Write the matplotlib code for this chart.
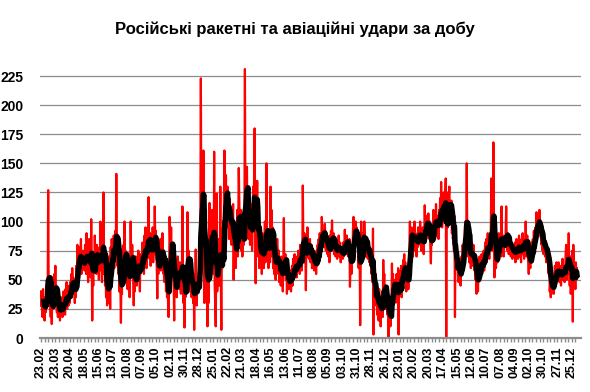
import matplotlib
matplotlib.use("Agg")
import matplotlib.pyplot as plt
import numpy as np
import pandas as pd

title = "Російські ракетні та авіаційні удари за добу"

tick_labels = ["23.02", "23.03", "20.04", "18.05", "15.06", "13.07", "10.08", "07.09",
               "05.10", "02.11", "30.11", "28.12", "25.01", "22.02", "21.03", "18.04",
               "16.05", "13.06", "11.07", "08.08", "05.09", "03.10", "31.10", "28.11",
               "26.12", "23.01", "20.02", "20.03", "17.04", "15.05", "12.06", "10.07",
               "07.08", "04.09", "02.10", "30.10", "27.11", "25.12"]

# daily strikes (blocks of 28 days)
strikes_2022a = [
    40, 27, 38, 18, 42, 25, 30, 15, 35, 22, 45, 28, 50, 35, 127, 42, 32, 48, 28, 18, 35, 12, 42, 30, 25, 48, 55, 35,
    62, 30, 45, 22, 38, 18, 28, 20, 32, 15, 25, 30, 22, 35, 18, 28, 40, 25, 33, 20, 42, 30, 48, 25, 38, 35, 28, 45,
    30, 48, 40, 55, 35, 60, 42, 52, 38, 45, 30, 50, 35, 62, 48, 80, 65, 72, 58, 78, 62, 70, 85, 55, 68, 60, 75, 62,
    72, 58, 80, 65, 55, 90, 70, 62, 48, 75, 85, 60, 70, 52, 102, 65, 15, 58, 45, 72, 60, 88, 68, 75, 55, 80, 62, 70,
    65, 50, 78, 58, 100, 62, 70, 48, 85, 55, 125, 60, 72, 45, 58, 35, 50, 28, 40, 55, 30, 62, 70, 25, 78, 60, 85, 72,
    80, 65, 88, 60, 78, 92, 70, 141, 82, 62, 75, 55, 62, 40, 72, 45, 13, 50, 38, 65, 48, 80, 60, 100, 58, 75, 62, 68,
]
strikes_2022b = [
    55, 42, 70, 48, 62, 35, 58, 100, 72, 60, 80, 65, 48, 28, 52, 40, 60, 70, 55, 45, 68, 58, 75, 50, 62, 40, 72, 65,
    70, 58, 82, 62, 75, 55, 88, 68, 95, 72, 60, 85, 78, 70, 121, 80, 68, 90, 62, 75, 85, 70, 95, 65, 80, 72, 113, 88,
    92, 75, 60, 34, 70, 55, 80, 62, 72, 85, 58, 78, 65, 90, 68, 55, 75, 48, 62, 70, 40, 58, 35, 52, 30, 18, 45, 104,
    85, 72, 95, 68, 60, 80, 75, 45, 15, 62, 50, 40, 58, 35, 55, 70, 48, 60, 42, 65, 55, 38, 62, 50, 113, 45, 30, 40,
    9, 55, 35, 62, 48, 70, 108, 60, 75, 52, 40, 68, 45, 58, 35, 50, 42, 30, 55, 7, 48, 40, 76, 35, 28, 45, 52, 40,
    45, 60, 90, 95, 223, 110, 90, 100, 85, 161, 85, 30, 70, 50, 110, 40, 65, 10, 45, 30, 55, 116, 70, 95, 60, 85, 110, 75,
]
strikes_2023a = [
    90, 55, 160, 45, 30, 10, 60, 124, 40, 70, 55, 85, 45, 65, 130, 50, 7, 80, 60, 95, 70, 110, 161, 125, 90, 140, 105, 120,
    130, 95, 115, 85, 120, 100, 90, 110, 80, 105, 95, 115, 50, 90, 75, 85, 60, 95, 80, 110, 70, 100, 146, 120, 95, 85, 110, 75,
    90, 70, 85, 100, 80, 95, 231, 110, 95, 125, 147, 90, 105, 85, 110, 95, 80, 100, 90, 115, 75, 95, 130, 110, 140, 180, 105, 47,
    120, 105, 135, 90, 70, 85, 60, 75, 95, 65, 80, 55, 90, 70, 85, 60, 75, 100, 65, 80, 150, 95, 70, 85, 60, 75, 90, 65,
    130, 85, 110, 70, 95, 60, 75, 55, 80, 65, 50, 72, 60, 85, 68, 55, 75, 48, 62, 58, 45, 70, 52, 60, 40, 65, 103, 55,
    60, 72, 50, 65, 38, 55, 45, 60, 42, 52, 48, 58, 40, 55, 62, 45, 68, 50, 58, 72, 55, 65, 60, 52, 70, 58, 75, 62,
    68, 55, 80, 62, 75, 58, 70, 131, 85, 72, 90, 65, 80, 41, 88, 75, 95, 70, 82, 68, 78, 85, 65, 72, 80, 60, 75, 70,
]
strikes_2023b = [
    65, 58, 72, 60, 68, 55, 75, 62, 80, 70, 85, 65, 90, 75, 88, 82, 104, 95, 80, 92, 85, 78, 98, 88, 75, 90, 80, 72,
    85, 70, 78, 65, 88, 75, 92, 80, 101, 85, 78, 90, 72, 82, 75, 70, 85, 78, 68, 80, 74, 88, 70, 78, 82, 65, 76, 72,
    75, 68, 82, 70, 78, 93, 80, 85, 72, 88, 78, 82, 70, 75, 85, 44, 60, 72, 55, 80, 68, 95, 104, 85, 92, 78, 100, 88,
    95, 82, 90, 75, 60, 85, 70, 11, 65, 100, 80, 72, 90, 85, 78, 100, 88, 75, 82, 70, 85, 78, 68, 80, 72, 65, 75, 62,
    70, 55, 60, 48, 94, 3, 50, 42, 35, 55, 28, 40, 20, 38, 30, 15, 42, 25, 35, 10, 30, 22, 40, 18, 67, 45, 55, 38,
    30, 45, 25, 35, 20, 40, 0, 25, 15, 30, 10, 22, 28, 64, 40, 55, 35, 48, 30, 50, 42, 38, 55, 45, 30, 60, 3, 52,
]
strikes_2024a = [
    45, 58, 40, 62, 35, 55, 48, 67, 60, 72, 55, 65, 48, 40, 52, 45, 58, 42, 65, 80, 100, 85, 95, 78, 92, 88, 70, 95,
    85, 100, 75, 90, 82, 70, 88, 78, 95, 80, 92, 85, 100, 88, 75, 90, 82, 95, 78, 72, 88, 114, 95, 100, 85, 105, 98, 92,
    107, 90, 85, 100, 78, 64, 88, 80, 95, 85, 110, 92, 105, 98, 90, 115, 88, 100, 95, 105, 85, 110, 98, 120, 100, 134, 108, 95,
    115, 105, 125, 110, 100, 120, 137, 0, 108, 125, 95, 115, 120, 130, 105, 112, 98, 118, 90, 100, 85, 95, 75, 105, 18, 80, 65, 72,
    60, 70, 55, 48, 65, 52, 58, 45, 62, 70, 55, 80, 68, 75, 85, 90, 100, 95, 85, 150, 90, 80, 70, 85, 65, 78, 72, 60,
    82, 68, 75, 62, 80, 70, 58, 65, 50, 60, 38, 55, 45, 40, 62, 58, 70, 52, 65, 60, 72, 55, 68, 62, 75, 58, 70, 82,
]
strikes_2024b = [
    70, 85, 65, 78, 90, 72, 80, 68, 85, 75, 95, 137, 88, 80, 75, 168, 90, 52, 65, 75, 60, 70, 85, 65, 78, 90, 72, 85,
    75, 90, 70, 113, 82, 75, 88, 70, 80, 85, 78, 92, 113, 85, 75, 90, 80, 72, 88, 78, 85, 70, 82, 75, 68, 80, 72, 78,
    70, 82, 65, 78, 85, 72, 80, 68, 75, 88, 70, 82, 78, 65, 85, 72, 90, 80, 75, 68, 85, 78, 100, 82, 70, 88, 75, 65,
    55, 68, 72, 60, 78, 65, 82, 70, 85, 75, 92, 80, 88, 95, 85, 108, 100, 92, 105, 95, 88, 110, 98, 90, 85, 80, 92, 75,
    85, 72, 90, 78, 70, 82, 65, 80, 68, 75, 60, 55, 70, 40, 48, 35, 52, 38, 45, 55, 42, 38, 50, 62, 55, 48, 65, 58,
    60, 50, 65, 55, 48, 62, 58, 45, 60, 52, 68, 50, 58, 62, 48, 55, 72, 80, 50, 60, 65, 55, 90, 62, 45, 70, 38, 55,
    62, 75, 14, 80, 60, 48, 55, 42, 65, 50, 60,
]

strikes = strikes_2022a + strikes_2022b + strikes_2023a + strikes_2023b + strikes_2024a + strikes_2024b
s = pd.Series(strikes, dtype=float)
ma7 = s.rolling(7).mean()
x = np.arange(len(s))

plt.rcParams['font.family'] = ['Liberation Sans', 'DejaVu Sans']

fig = plt.figure(figsize=(5.9, 3.92), dpi=100)
ax = fig.add_axes([40/590, (392-338)/392, 541/590, (338-66)/392])

ax.plot(x, s, color='#FF0000', lw=1.6, zorder=3)
ax.plot(x, ma7, color='black', lw=4.0, zorder=4)

ax.set_ylim(0, 233.6)
ax.set_xlim(-1.95, 1054)
ax.set_yticks(np.arange(0, 226, 25))
ax.set_xticks(np.arange(0, 28*len(tick_labels), 28))
ax.set_xticklabels(tick_labels, rotation=90, fontsize=9, fontweight='bold')
ax.set_xticks(np.arange(0, len(s), 7), minor=True)
for lab in ax.get_yticklabels():
    lab.set_fontweight('bold')
    lab.set_fontsize(10)

ax.grid(axis='y', color='#8c8c8c', lw=0.9, zorder=0)
ax.set_axisbelow(True)
for sp in ['top', 'right', 'left']:
    ax.spines[sp].set_visible(False)
ax.spines['bottom'].set_color('#8c8c8c')
ax.spines['bottom'].set_linewidth(1.6)
ax.spines['bottom'].set_zorder(5)
ax.tick_params(axis='y', length=0, pad=12)
ax.tick_params(axis='x', which='both', direction='out', length=3, color='#8c8c8c', width=1, pad=3)

fig.text(0.5, 1 - 29/392, title, ha='center', va='center', fontsize=12, fontweight='bold')

fig.savefig('out.png', dpi=100)
